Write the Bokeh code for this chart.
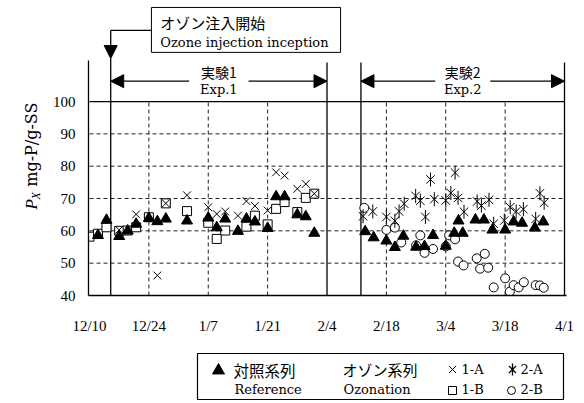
import numpy as np
from bokeh.plotting import figure
from bokeh.models import Range1d, FixedTicker, Arrow, NormalHead
from bokeh.layouts import column, row
from bokeh.core.properties import value
from bokeh.embed import file_html
from bokeh.resources import INLINE

# ---- axes: days counted from 12/10 ----
tick_days = [0, 14, 28, 42, 56, 70, 84, 98, 112]
tick_labels = ["12/10", "12/24", "1/7", "1/21", "2/4", "2/18", "3/4", "3/18", "4/1"]
grid_days = [14, 28, 42, 70, 84, 98]
y_ticks = [40, 50, 60, 70, 80, 90, 100]

# experiment periods (days from 12/10)
ozone_start = 5
exp1_end = 56
exp2_start = 64
exp2_end = 112

# ---- reference series (both experiments) ----
ref_days = [2, 4, 7, 9, 11, 14, 16, 18, 23, 28, 30, 32, 35, 37, 39, 42, 44, 46, 49, 51, 53,
            65, 67, 70, 72, 74, 77, 79, 81, 84, 86, 87, 88, 91, 93, 95, 98, 100, 102, 105, 107]
ref_vals = [58.6, 63.3, 58.3, 60.0, 62.1, 63.9, 62.9, 63.7, 63.1, 64.0, 61.0, 63.7, 59.9, 63.7,
            62.8, 60.8, 70.6, 70.6, 65.0, 64.4, 59.3,
            59.8, 57.9, 56.9, 54.9, 58.4, 55.0, 55.2, 58.6, 55.3, 59.3, 63.1, 59.3, 63.4, 63.4,
            60.3, 60.3, 62.8, 62.4, 60.9, 62.8]

# ---- Exp.1 ozonation series ----
a1_days = [7, 11, 16, 18, 23, 28, 30, 32, 35, 37, 39, 42, 44, 46, 49, 51, 53]
a1_vals = [60.3, 65.1, 46.2, 68.5, 71.0, 67.3, 65.2, 66.0, 64.7, 69.2, 67.7, 66.3, 78.1, 77.1,
           73.0, 74.5, 71.5]
b1_days = [0, 2, 4, 7, 9, 11, 14, 18, 23, 28, 30, 32, 37, 39, 42, 44, 46, 49, 51, 53]
b1_vals = [58.2, 59.1, 61.1, 60.0, 60.1, 61.1, 64.2, 68.5, 66.1, 62.5, 57.5, 60.1, 61.3, 64.7,
           62.0, 66.8, 68.9, 65.8, 70.2, 71.5]

# ---- Exp.2 ozonation series ----
a2_days = [64.5, 66.8, 70, 72, 73, 74.2, 76.9, 78, 79.2, 80.4, 81.3, 84, 85.2, 86.2, 86.9, 88.3,
           91.4, 92.4, 94.2, 95.3, 97.8, 99.2, 100.6, 102.3, 105.2, 106.2, 107.2]
a2_vals = [64.5, 66.0, 64.3, 63.1, 66.0, 68.4, 70.8, 69.3, 64.3, 75.9, 69.8, 69.4, 71.7, 78.0,
           70.2, 65.9, 69.1, 67.8, 69.6, 62.2, 63.2, 67.3, 66.0, 66.7, 63.7, 71.6, 68.7]
b2_days = [64.8, 70, 72, 73.5, 77, 78, 79, 81, 84, 84.8, 86.2, 86.9, 88.2, 91.3, 93.2, 92.1, 94,
           95.3, 98, 99.1, 100, 101.2, 102.4, 105.2, 106.2, 107.1]
b2_vals = [67.1, 60.3, 61.0, 56.4, 55.5, 58.6, 53.2, 54.4, 55.2, 58.6, 57.4, 50.5, 49.3, 51.5,
           52.9, 48.3, 48.6, 42.5, 45.3, 41.2, 43.2, 42.5, 44.1, 43.2, 43.1, 42.4]

FONT_NUM = "Liberation Serif"
FONT_TXT = "DejaVu Serif"
FONT_JP = "Noto Sans CJK JP"

TITLE_W = 48   # strip holding the rotated y-axis title

p = figure(width=584 - TITLE_W, height=350,
           x_range=Range1d(-0.236, 112.47), y_range=Range1d(40, 131.25),
           output_backend="svg", toolbar_location=None,
           min_border_left=88 - TITLE_W, min_border_right=18, min_border_top=0,
           min_border_bottom=55,
           outline_line_color=None, background_fill_color="white", border_fill_color="white")
p.grid.visible = False

for ax in (p.xaxis[0], p.yaxis[0]):
    ax.major_tick_out = 0
    ax.major_tick_in = 0
    ax.minor_tick_out = 0
    ax.minor_tick_in = 0
    ax.axis_line_color = "black"
    ax.axis_line_width = 1.3
    ax.major_label_text_font = FONT_NUM
    ax.major_label_text_font_size = "15px"
    ax.major_label_text_color = "black"

p.xaxis.ticker = FixedTicker(ticks=tick_days)
p.xaxis.major_label_overrides = {d: lab for d, lab in zip(tick_days, tick_labels)}
p.xaxis.major_label_standoff = 22
p.yaxis.ticker = FixedTicker(ticks=y_ticks)
p.yaxis.major_label_standoff = 13
p.yaxis.bounds = (40, 112.7)

# grid: dashed inside, solid line at the top value
p.segment(x0=0, x1=exp2_end, y0=y_ticks[1:-1], y1=y_ticks[1:-1],
          line_color="#222222", line_width=1, line_dash="4 3")
p.segment(x0=grid_days, x1=grid_days, y0=y_ticks[0], y1=y_ticks[-1],
          line_color="#222222", line_width=1, line_dash="4 3")
p.segment(x0=0, x1=exp2_end, y0=y_ticks[-1], y1=y_ticks[-1], line_color="black", line_width=1.3)

# period boundaries
bounds_x = [exp1_end, exp2_start, exp2_end]
p.segment(x0=bounds_x, x1=bounds_x, y0=40, y1=112.1, line_color="black", line_width=1.3)
p.segment(x0=ozone_start, x1=ozone_start, y0=40, y1=113.3, line_color="black", line_width=1.3)

# ozone injection callout
p.segment(x0=ozone_start, x1=14.6, y0=122.0, y1=122.0, line_color="black", line_width=1.3)
p.add_layout(Arrow(end=NormalHead(size=13, fill_color="black", line_color="black"),
                   x_start=ozone_start, y_start=122.0, x_end=ozone_start, y_end=113.3,
                   line_color="black", line_width=1.3))
p.quad(left=14.6, right=59.2, bottom=115.2, top=129.1,
       fill_color="white", line_color="black", line_width=1)
p.text(x=[16.7], y=[124.4], text=["オゾン注入開始"], text_font=value(FONT_JP),
       text_font_size="15px", text_align="left", text_baseline="middle", text_color="black")
p.text(x=[16.7], y=[118.3], text=["Ozone injection inception"], text_font=value(FONT_TXT),
       text_font_size="13px", text_align="left", text_baseline="middle", text_color="black")

# experiment period arrows
arrow_y = 106.3
for lo, hi, half, jp, en in [(ozone_start, exp1_end, 7.0, "実験1", "Exp.1"),
                             (exp2_start, exp2_end, 6.5, "実験2", "Exp.2")]:
    mid = (lo + hi) / 2
    for start, end in [(mid - half, lo), (mid + half, hi)]:
        p.add_layout(Arrow(end=NormalHead(size=13, fill_color="black", line_color="black"),
                           x_start=start, y_start=arrow_y, x_end=end, y_end=arrow_y,
                           line_color="black", line_width=1.3))
    p.text(x=[mid], y=[109.0], text=[jp], text_font=value(FONT_JP), text_font_size="14px",
           text_align="center", text_baseline="middle", text_color="black")
    p.text(x=[mid], y=[103.7], text=[en], text_font=value(FONT_TXT), text_font_size="13px",
           text_align="center", text_baseline="middle", text_color="black")

# data markers
p.scatter(b1_days, b1_vals, marker="square", size=9, fill_color="white",
          line_color="black", line_width=1)
p.scatter(b2_days, b2_vals, marker="circle", size=9, fill_color="white",
          line_color="black", line_width=1)
p.scatter(ref_days, ref_vals, marker="triangle", size=11, fill_color="black",
          line_color="black", line_width=1)
p.scatter(a1_days, a1_vals, marker="x", size=11, line_color="black", line_width=1)
p.scatter(a2_days, a2_vals, marker="x", size=12, line_color="black", line_width=1)
p.scatter(a2_days, a2_vals, marker="dash", angle=np.pi / 2, size=14,
          line_color="black", line_width=1)

# ---- y-axis title strip: P_X  mg-P/g-SS (rotated) ----
ylab = figure(width=TITLE_W, height=350, x_range=Range1d(0, TITLE_W), y_range=Range1d(0, 350),
              output_backend="svg", toolbar_location=None, min_border=0,
              x_axis_type=None, y_axis_type=None, outline_line_color=None,
              background_fill_color="white", border_fill_color="white")
ylab.grid.visible = False
ylab.text(x=[31], y=[102], text=["P"], angle=np.pi / 2, text_font=value(FONT_NUM),
          text_font_style="italic", text_font_size="17px", text_align="left",
          text_baseline="alphabetic", text_color="black")
ylab.text(x=[35], y=[114], text=["X"], angle=np.pi / 2, text_font=value(FONT_NUM),
          text_font_style="italic", text_font_size="12px", text_align="left",
          text_baseline="alphabetic", text_color="black")
ylab.text(x=[31], y=[129], text=["mg-P/g-SS"], angle=np.pi / 2, text_font=value(FONT_TXT),
          text_font_size="16px", text_align="left", text_baseline="alphabetic",
          text_color="black")

# ---- legend panel ----
leg = figure(width=584, height=53, x_range=Range1d(0, 584), y_range=Range1d(53, 0),
             output_backend="svg", toolbar_location=None, min_border=0,
             x_axis_type=None, y_axis_type=None, outline_line_color=None,
             background_fill_color="white", border_fill_color="white")
leg.grid.visible = False
leg.quad(left=197, right=563, top=3, bottom=49, fill_color=None,
         line_color="black", line_width=1.2)

row1, row2 = 19, 39
leg.scatter([218], [row1 + 1], marker="triangle", size=12, fill_color="black", line_color="black")
leg.text(x=[233], y=[row1], text=["対照系列"], text_font=value(FONT_JP), text_font_size="15.5px",
         text_align="left", text_baseline="middle", text_color="black")
leg.text(x=[234], y=[row2], text=["Reference"], text_font=value(FONT_TXT), text_font_size="13px",
         text_align="left", text_baseline="middle", text_color="black")
leg.text(x=[342], y=[row1], text=["オゾン系列"], text_font=value(FONT_JP), text_font_size="15px",
         text_align="left", text_baseline="middle", text_color="black")
leg.text(x=[343], y=[row2], text=["Ozonation"], text_font=value(FONT_TXT), text_font_size="13px",
         text_align="left", text_baseline="middle", text_color="black")

series_names = ["1-A", "2-A", "1-B", "2-B"]
name_x = [461, 520, 461, 520]
name_y = [row1, row1, row2, row2]
leg.text(x=name_x, y=name_y, text=series_names, text_font=value(FONT_TXT), text_font_size="13px",
         text_align="left", text_baseline="middle", text_color="black")
leg.scatter([452], [row1], marker="x", size=10, line_color="black", line_width=1)
leg.scatter([512], [row1], marker="x", size=10, line_color="black", line_width=1.3)
leg.scatter([512], [row1], marker="dash", angle=np.pi / 2, size=12, line_color="black",
            line_width=1.3)
leg.scatter([452], [row2 + 1], marker="square", size=8, fill_color="white",
            line_color="black", line_width=1)
leg.scatter([511], [row2 + 1], marker="circle", size=8, fill_color="white",
            line_color="black", line_width=1)

layout = column(row(ylab, p, spacing=0), leg, spacing=0)
open("out.html", "w").write(file_html(layout, INLINE))
